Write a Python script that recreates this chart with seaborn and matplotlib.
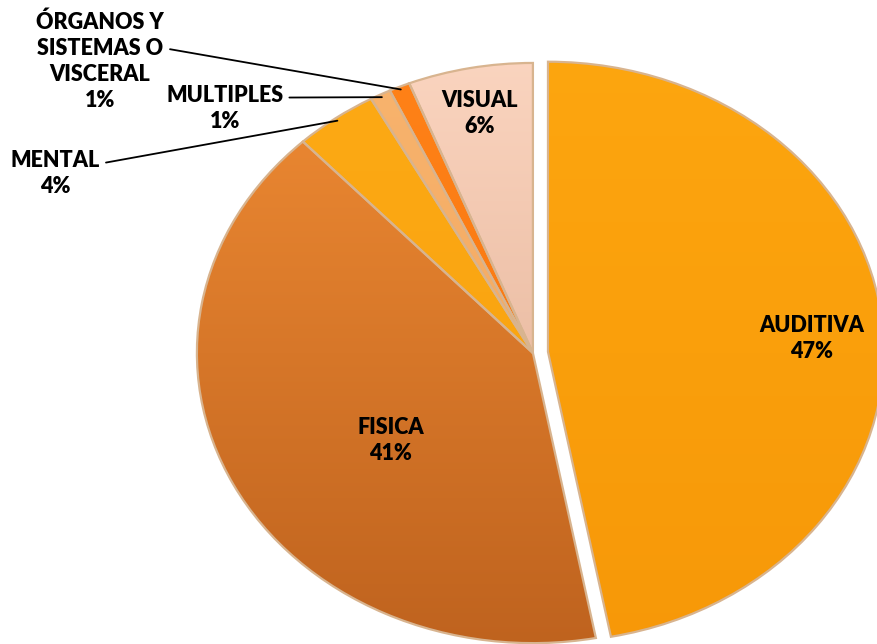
import numpy as np
import matplotlib
matplotlib.use("Agg")
import matplotlib.pyplot as plt
from matplotlib.colors import LinearSegmentedColormap
from matplotlib.patches import Wedge
import seaborn as sns

# datos
categorias = ["AUDITIVA", "FISICA", "MENTAL", "MULTIPLES",
              "ÓRGANOS Y\nSISTEMAS O\nVISCERAL", "VISUAL"]
porcentajes = [47, 41, 4, 1, 1, 6]
color_arriba = ["#FDA60F", "#F08C34", "#FDAA14", "#F8B46E", "#FF8217", "#FBD5C0"]
color_abajo = ["#F79808", "#BE621E", "#F7A00F", "#F0A25A", "#F57210", "#DDA98C"]

sns.set_theme(style="white")
plt.rcParams["font.family"] = ["Lato", "DejaVu Sans"]

fig = plt.figure(figsize=(8.78, 6.44), dpi=100)
ax = fig.add_axes([0, 0, 1, 1])

explode = [0.045, 0, 0, 0, 0, 0]
wedges, _ = ax.pie(porcentajes, colors=sns.color_palette(color_arriba),
                   startangle=90, counterclock=False, explode=explode,
                   wedgeprops=dict(edgecolor="none"))

# elipse (efecto 3D) -> aspecto libre
ax.set_aspect("auto")
ax.axis("off")

# degradado vertical en cada porcion
grad = np.linspace(1, 0, 256).reshape(-1, 1)
for w, c1, c2 in zip(wedges, color_arriba, color_abajo):
    cmap = LinearSegmentedColormap.from_list("g", [c2, c1])
    im = ax.imshow(grad, cmap=cmap, extent=(-1.2, 1.2, -1.05, 1.05),
                   aspect="auto", zorder=w.get_zorder() + 0.1, vmin=0, vmax=1)
    im.set_clip_path(w)
    ax.add_patch(Wedge(w.center, w.r, w.theta1, w.theta2, fill=False,
                       edgecolor="#D8B48F", lw=1.6, zorder=w.get_zorder() + 0.2))
ax.set_xlim(-1.586, 1.027)
ax.set_ylim(-1.003, 1.217)

def punto(w, r, desvio=0):
    ang = np.deg2rad((w.theta1 + w.theta2) / 2 + desvio)
    return w.center[0] + r * np.cos(ang), w.center[1] + r * np.sin(ang)

fuente = dict(fontsize=15.5, fontweight="heavy", color="black", ha="center",
              va="center", linespacing=1.3, zorder=10)

# etiquetas internas
for i, r, d in [(0, 0.785, -2), (1, 0.52, 8.5), (5, 0.84, 0)]:
    x, y = punto(wedges[i], r, d)
    ax.text(x, y, f"{categorias[i]}\n{porcentajes[i]}%", **fuente)

# etiquetas externas con linea guia
externas = [(2, (0.063, 0.730), (1, 0.74)),
            (3, (0.256, 0.831), (1, 0.74)),
            (4, (0.114, 0.905), (1, 0.62))]
for i, pos, rel in externas:
    ax.annotate(f"{categorias[i]}\n{porcentajes[i]}%", xy=punto(wedges[i], 0.99),
                xytext=pos, textcoords="axes fraction",
                arrowprops=dict(arrowstyle="-", color="black", lw=1.3,
                                relpos=rel, shrinkA=2, shrinkB=0,
                                connectionstyle="arc,angleA=0,angleB=0,armA=6,armB=0,rad=0"),
                **fuente)

fig.savefig("out.png", dpi=100)
